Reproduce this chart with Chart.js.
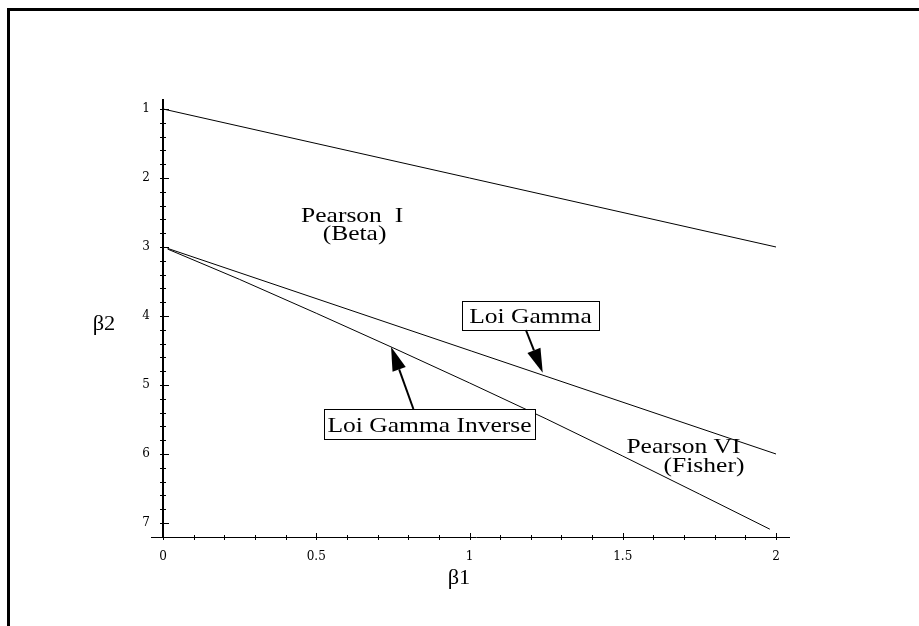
<!DOCTYPE html>
<html>
<head>
<meta charset="utf-8">
<script src="https://cdn.jsdelivr.net/npm/chart.js@4/dist/chart.umd.min.js"></script>
<style>
  body { margin: 0; background: #fff; }
</style>
</head>
<body>
<canvas id="chart" width="919" height="626"></canvas>
<script>
// β1 / β2 plane (Pearson diagram)
const upperB1 = [0, 2];
const upperB2 = [1, 3];

const gammaB1 = [0.015, 2];
const gammaB2 = [3.02, 6];

const invGammaB1 = [0.015, 0.25, 0.5, 0.75, 1, 1.25, 1.5, 1.75, 1.98];
const invGammaB2 = [3.03, 3.47, 3.96, 4.46, 4.97, 5.49, 6.03, 6.58, 7.09];

const xTicks = [0, 0.1, 0.2, 0.3, 0.4, 0.5, 0.6, 0.7, 0.8, 0.9, 1, 1.1, 1.2, 1.3, 1.4, 1.5, 1.6, 1.7, 1.8, 1.9, 2];
const xLabels = { 0: "0", 0.5: "0.5", 1: "1", 1.5: "1.5", 2: "2" };
const yTicks = [1, 1.2, 1.4, 1.6, 1.8, 2, 2.2, 2.4, 2.6, 2.8, 3, 3.2, 3.4, 3.6, 3.8, 4, 4.2, 4.4, 4.6, 4.8, 5, 5.2, 5.4, 5.6, 5.8, 6, 6.2, 6.4, 6.6, 6.8, 7];
const yLabels = { 1: "1", 2: "2", 3: "3", 4: "4", 5: "5", 6: "6", 7: "7" };

const toPoints = (xs, ys) => xs.map((x, i) => ({ x: x, y: ys[i] }));

const lineSet = (xs, ys) => ({
  data: toPoints(xs, ys),
  showLine: true,
  borderColor: "#000",
  borderWidth: 1,
  pointRadius: 0,
  fill: false,
  tension: 0,
});

const SERIF = "'Liberation Serif', 'Times New Roman', serif";

function stretchText(ctx, text, x, y, size, sx) {
  ctx.save();
  ctx.translate(x, y);
  ctx.scale(sx, 1);
  ctx.font = size + "px " + SERIF;
  ctx.textAlign = "center";
  ctx.textBaseline = "alphabetic";
  ctx.fillStyle = "#000";
  ctx.fillText(text, 0, 0);
  ctx.restore();
}

function arrow(ctx, x1, y1, x2, y2) {
  const ang = Math.atan2(y2 - y1, x2 - x1);
  const len = 24, half = 7;
  const bx = x2 - len * Math.cos(ang), by = y2 - len * Math.sin(ang);
  ctx.save();
  ctx.strokeStyle = "#000";
  ctx.lineWidth = 2;
  ctx.beginPath();
  ctx.moveTo(x1, y1);
  ctx.lineTo(bx, by);
  ctx.stroke();
  ctx.fillStyle = "#000";
  ctx.beginPath();
  ctx.moveTo(x2, y2);
  ctx.lineTo(bx + half * Math.sin(ang), by - half * Math.cos(ang));
  ctx.lineTo(bx - half * Math.sin(ang), by + half * Math.cos(ang));
  ctx.closePath();
  ctx.fill();
  ctx.restore();
}

// frame, tick marks, labels and arrows
const decor = {
  id: "decor",
  afterDraw(chart) {
    const ctx = chart.ctx;
    const xs = chart.scales.x, ys = chart.scales.y;
    const px = (v) => xs.getPixelForValue(v);
    const py = (v) => ys.getPixelForValue(v);
    const area = chart.chartArea;

    ctx.save();
    // outer frame (top + left)
    ctx.fillStyle = "#000";
    ctx.fillRect(7, 8, 912, 3);
    ctx.fillRect(7, 8, 3, 618);

    // tick marks
    ctx.strokeStyle = "#000";
    ctx.lineWidth = 1;
    ctx.beginPath();
    ctx.moveTo(area.left - 12, area.bottom + 0.5);
    ctx.lineTo(area.left, area.bottom + 0.5);
    xs.ticks.forEach((t) => {
      const x = Math.round(px(t.value)) + 0.5;
      const major = xLabels[t.value] !== undefined;
      ctx.moveTo(x, area.bottom - (major ? 4 : 2));
      ctx.lineTo(x, area.bottom + 3);
    });
    ys.ticks.forEach((t) => {
      const y = Math.round(py(t.value)) + 0.5;
      const major = yLabels[t.value] !== undefined;
      ctx.moveTo(area.left - 3, y);
      ctx.lineTo(area.left + (major ? 6 : 3), y);
    });
    ctx.stroke();
    ctx.restore();

    // region labels
    stretchText(ctx, "Pearson  I", px(0.617), py(2.633), 22, 1.16);
    stretchText(ctx, "(Beta)", px(0.625), py(2.899), 22, 1.16);
    stretchText(ctx, "Pearson VI", px(1.698), py(5.99), 22, 1.16);
    stretchText(ctx, "(Fisher)", px(1.765), py(6.257), 22, 1.16);

    // boxed labels
    ctx.save();
    ctx.strokeStyle = "#000";
    ctx.lineWidth = 1;
    ctx.fillStyle = "#fff";
    const box1 = [px(0.975), py(3.783), px(1.423), py(4.203)];
    ctx.fillRect(box1[0], box1[1], box1[2] - box1[0], box1[3] - box1[1]);
    ctx.strokeRect(Math.round(box1[0]) + 0.5, Math.round(box1[1]) + 0.5, Math.round(box1[2] - box1[0]), Math.round(box1[3] - box1[1]));
    const box2 = [px(0.525), py(5.348), px(1.214), py(5.783)];
    ctx.fillRect(box2[0], box2[1], box2[2] - box2[0], box2[3] - box2[1]);
    ctx.strokeRect(Math.round(box2[0]) + 0.5, Math.round(box2[1]) + 0.5, Math.round(box2[2] - box2[0]), Math.round(box2[3] - box2[1]));
    ctx.restore();
    stretchText(ctx, "Loi Gamma", px(1.199), py(4.106), 22, 1.16);
    stretchText(ctx, "Loi Gamma Inverse", px(0.8695), py(5.677), 22, 1.16);

    arrow(ctx, px(1.184), py(4.203), px(1.239), py(4.822));
    arrow(ctx, px(0.817), py(5.348), px(0.744), py(4.445));

    // axis titles
    stretchText(ctx, "β1", 459, 584, 20, 1.12);
    stretchText(ctx, "β2", 104, 330, 20, 1.12);
  },
};

new Chart(document.getElementById("chart"), {
  type: "scatter",
  data: {
    datasets: [
      lineSet(upperB1, upperB2),
      lineSet(gammaB1, gammaB2),
      lineSet(invGammaB1, invGammaB2),
    ],
  },
  options: {
    responsive: false,
    animation: false,
    layout: { padding: { left: 133, top: 100, right: 130, bottom: 59 } },
    plugins: { legend: { display: false }, tooltip: { enabled: false } },
    scales: {
      x: {
        type: "linear",
        position: "bottom",
        min: 0,
        max: 2.0424,
        afterBuildTicks: (s) => { s.ticks = xTicks.map((v) => ({ value: v })); },
        afterFit: (s) => { s.height = 30; },
        grid: { display: false },
        border: { display: true, color: "#000", width: 1 },
        ticks: {
          autoSkip: false,
          maxRotation: 0,
          padding: 5,
          color: "#000",
          font: { family: "'DejaVu Serif', serif", size: 12 },
          callback: (v) => xLabels[v] || "",
        },
      },
      y: {
        type: "linear",
        position: "left",
        reverse: true,
        min: 0.8696,
        max: 7.2029,
        afterBuildTicks: (s) => { s.ticks = yTicks.map((v) => ({ value: v })); },
        afterFit: (s) => { s.width = 30; },
        grid: { display: false },
        border: { display: true, color: "#000", width: 2 },
        ticks: {
          autoSkip: false,
          padding: 5,
          color: "#000",
          font: { family: "'DejaVu Serif', serif", size: 12 },
          callback: (v) => yLabels[v] || "",
        },
      },
    },
  },
  plugins: [decor],
});
</script>
</body>
</html>
